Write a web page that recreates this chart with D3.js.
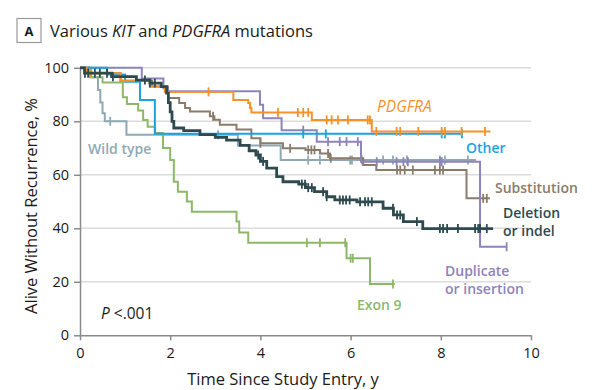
<!DOCTYPE html>
<html>
<head>
<meta charset="utf-8">
<script src="https://cdn.jsdelivr.net/npm/d3@7"></script>
<style>
  body { margin: 0; background: #fff; }
  svg { font-family: "Open Sans", sans-serif; }
</style>
</head>
<body>
<div id="root"></div>
<script>
const w = 592;
const h = 390;

const xTicks = [0, 2, 4, 6, 8, 10];
const yTicks = [0, 20, 40, 60, 80, 100];

// each step = [year, % alive without recurrence from that year on]
const wildSteps = [[0, 100], [0.22, 96.5], [0.4, 91.7], [0.45, 87], [0.5, 83], [0.55, 80], [1.03, 75], [3.5, 71], [4.45, 65.5]];
const wildCensor = [0.67, 3.06, 5.06, 5.32, 5.99, 6.03, 6.25, 6.72, 6.94, 7.25, 7.98, 8.09, 8.6];
const wildEnd = 8.78;

const exon9Steps = [[0, 100], [0.25, 96.5], [0.5, 94.5], [0.95, 89], [1.04, 86.5], [1.29, 84], [1.4, 80.5], [1.5, 78], [1.66, 75.6], [1.84, 70], [2.0, 65.5], [2.08, 57.4], [2.17, 53.7], [2.37, 50], [2.48, 46.2], [3.47, 42.5], [3.53, 38.4], [3.73, 34.6], [5.91, 28.8], [6.43, 19.2]];
const exon9Censor = [5.03, 5.32, 5.88, 6.0, 6.05, 6.94];
const exon9End = 6.98;

const substSteps = [[0, 100], [0.2, 98], [0.9, 95.2], [1.6, 93], [1.95, 88.7], [2.2, 86.8], [2.33, 85], [2.44, 83.7], [2.88, 81.9], [2.98, 80.6], [3.1, 78.7], [3.47, 76.9], [3.8, 73.7], [4.0, 71.8], [4.5, 69.9], [5.0, 69.3], [5.32, 68], [5.54, 66.2], [6.28, 63.7], [6.57, 61.8], [8.57, 51.2]];
const substCensor = [2.95, 4.0, 4.66, 5.06, 5.13, 5.2, 5.5, 5.56, 7.03, 7.1, 7.2, 7.38, 7.87, 7.98, 8.05, 8.87, 8.94, 9.02];
const substEnd = 9.09;

const dupSteps = [[0, 100], [1.37, 96], [1.85, 92.4], [1.92, 91.2], [3.99, 86.2], [4.06, 81.1], [4.47, 76.7], [5.25, 72.4], [6.23, 64.9], [8.87, 33.1]];
const dupCensor = [4.95, 5.5, 5.76, 5.91, 6.16, 6.58, 7.02, 7.17, 7.27, 7.98, 8.02, 9.46];
const dupEnd = 9.46;

const otherSteps = [[0, 100], [0.6, 97.5], [1.0, 94.8], [1.33, 88], [1.66, 75.3]];
const otherCensor = [4.95, 5.45, 8.02, 8.09, 8.47];
const otherEnd = 8.47;

const pdgfraSteps = [[0, 100], [0.15, 98], [0.9, 95.2], [1.55, 93], [1.88, 91], [3.4, 88], [3.73, 86.8], [3.77, 85], [3.8, 83.3], [5.14, 80.5], [6.47, 76.2]];
const pdgfraCensor = [0.22, 2.85, 4.39, 4.83, 4.95, 5.06, 5.47, 5.58, 5.72, 5.94, 6.38, 6.43, 6.57, 7.02, 7.1, 7.5, 8.02, 8.09, 8.46, 8.98];
const pdgfraEnd = 9.1;

const delSteps = [[0, 100], [0.1, 98], [0.7, 96.7], [1.25, 95.4], [1.55, 94.3], [1.8, 93], [1.92, 90.5], [1.96, 87], [2.0, 83.5], [2.04, 80], [2.08, 77.5], [2.3, 76.5], [2.66, 75], [3.0, 74], [3.25, 73], [3.55, 71], [3.75, 69], [3.9, 67.4], [4.0, 65], [4.14, 62.5], [4.36, 59.3], [4.5, 57.4], [4.85, 56.5], [5.0, 55.2], [5.2, 53.7], [5.47, 51.8], [5.65, 50.6], [6.14, 49.9], [6.72, 47.5], [6.95, 45], [7.17, 42.5], [7.6, 39.9]];
const delCensor = [0.11, 0.18, 0.33, 0.44, 0.6, 0.73, 1.44, 1.55, 1.66, 3.95, 4.06, 4.92, 4.99, 5.06, 5.14, 5.39, 5.47, 5.76, 5.83, 5.9, 5.98, 6.21, 6.32, 6.39, 6.47, 6.94, 7.03, 7.1, 7.47, 7.98, 8.05, 8.14, 8.38, 8.76, 8.83, 8.87, 9.02];
const delEnd = 9.16;

const colors = {
  wild: "#8fa9b4",
  exon9: "#8db86a",
  subst: "#8a7b6a",
  dup: "#8e83bd",
  other: "#1ba3dd",
  pdgfra: "#f5922a",
  del: "#2e4a4f",
};

const series = [
  { key: "wild", steps: wildSteps, censor: wildCensor, end: wildEnd, width: 2 },
  { key: "exon9", steps: exon9Steps, censor: exon9Censor, end: exon9End, width: 2 },
  { key: "subst", steps: substSteps, censor: substCensor, end: substEnd, width: 2 },
  { key: "dup", steps: dupSteps, censor: dupCensor, end: dupEnd, width: 2 },
  { key: "other", steps: otherSteps, censor: otherCensor, end: otherEnd, width: 2 },
  { key: "pdgfra", steps: pdgfraSteps, censor: pdgfraCensor, end: pdgfraEnd, width: 2 },
  { key: "del", steps: delSteps, censor: delCensor, end: delEnd, width: 2.8 },
];

const svg = d3
  .select("#root")
  .append("svg")
  .attr("width", w)
  .attr("height", h);

const xScale = d3.scaleLinear().domain([0, 10]).range([80, 531]);
const yScale = d3.scaleLinear().domain([0, 100]).range([335.3, 67.8]);

// title with boxed panel letter
svg
  .append("rect")
  .attr("x", 17)
  .attr("y", 18.5)
  .attr("width", 24)
  .attr("height", 24)
  .attr("fill", "#fff")
  .attr("stroke", "#9a9a9a")
  .attr("stroke-width", 1.2);

svg
  .append("text")
  .attr("x", 29)
  .attr("y", 35.5)
  .attr("text-anchor", "middle")
  .attr("font-size", 13)
  .attr("font-weight", "bold")
  .attr("fill", "#1a1a1a")
  .text("A");

const title = svg
  .append("text")
  .attr("x", 50)
  .attr("y", 37)
  .attr("font-size", 16.5)
  .attr("fill", "#1a1a1a");
title.append("tspan").text("Various ");
title.append("tspan").attr("font-style", "italic").text("KIT");
title.append("tspan").text(" and ");
title.append("tspan").attr("font-style", "italic").text("PDGFRA");
title.append("tspan").text(" mutations");

// grid
svg
  .append("g")
  .selectAll("line")
  .data(yTicks.filter((d) => d > 0))
  .join("line")
  .attr("x1", xScale(0))
  .attr("x2", xScale(10))
  .attr("y1", (d) => yScale(d))
  .attr("y2", (d) => yScale(d))
  .attr("stroke", "#dcdcdc")
  .attr("stroke-width", 1.5);

// axes
const yAxis = d3.axisLeft(yScale).tickValues(yTicks).tickSize(6).tickSizeOuter(0).tickPadding(5);
const xAxis = d3.axisBottom(xScale).tickValues(xTicks).tickSize(5).tickSizeOuter(0).tickPadding(7);

const gy = svg
  .append("g")
  .attr("transform", `translate(${xScale(0)},0)`)
  .call(yAxis);
const gx = svg
  .append("g")
  .attr("transform", `translate(0,${yScale(0)})`)
  .call(xAxis);

[gx, gy].forEach((g) => {
  g.select(".domain").attr("stroke", "#8a8a8a").attr("stroke-width", 1.5);
  g.selectAll(".tick line").attr("stroke", "#8a8a8a").attr("stroke-width", 1.5);
  g.selectAll(".tick text")
    .attr("font-family", "Open Sans, sans-serif")
    .attr("font-size", 14.5)
    .attr("fill", "#1a1a1a");
});

svg
  .append("text")
  .attr("text-anchor", "middle")
  .attr("transform", `translate(283, 385)`)
  .attr("font-size", 16.5)
  .attr("fill", "#1a1a1a")
  .text("Time Since Study Entry, y");

svg
  .append("text")
  .attr("text-anchor", "middle")
  .attr("transform", `translate(37, 206) rotate(-90)`)
  .attr("font-size", 16.5)
  .attr("fill", "#1a1a1a")
  .text("Alive Without Recurrence, %");

// curves
function valueAt(steps, t) {
  let v = steps[0][1];
  steps.forEach((s) => {
    if (s[0] <= t) v = s[1];
  });
  return v;
}

const line = d3
  .line()
  .x((d) => xScale(d[0]))
  .y((d) => yScale(d[1]))
  .curve(d3.curveStepAfter);

const curves = svg.append("g");

series.forEach((s) => {
  const pts = s.steps.concat([[s.end, s.steps[s.steps.length - 1][1]]]);
  const g = curves.append("g");

  g.append("path")
    .attr("d", line(pts))
    .attr("fill", "none")
    .attr("stroke", colors[s.key])
    .attr("stroke-width", s.width);

  g.selectAll("line")
    .data(s.censor)
    .join("line")
    .attr("x1", (d) => xScale(d))
    .attr("x2", (d) => xScale(d))
    .attr("y1", (d) => yScale(valueAt(s.steps, d)) - 4.5)
    .attr("y2", (d) => yScale(valueAt(s.steps, d)) + 4.5)
    .attr("stroke", colors[s.key])
    .attr("stroke-width", 1.8);
});

// curve labels
const labels = [
  { key: "pdgfra", lines: ["PDGFRA"], x: 377, y: 112, italic: true, size: 15.5 },
  { key: "other", lines: ["Other"], x: 466, y: 153 },
  { key: "wild", lines: ["Wild type"], x: 88, y: 154 },
  { key: "subst", lines: ["Substitution"], x: 495, y: 193 },
  { key: "del", lines: ["Deletion", "or indel"], x: 503, y: 218 },
  { key: "dup", lines: ["Duplicate", "or insertion"], x: 445, y: 276 },
  { key: "exon9", lines: ["Exon 9"], x: 357, y: 310 },
];

labels.forEach((l) => {
  const t = svg
    .append("text")
    .attr("x", l.x)
    .attr("y", l.y)
    .attr("font-size", l.size || 14)
    .attr("font-weight", l.italic ? 400 : 600)
    .attr("font-style", l.italic ? "italic" : "normal")
    .attr("fill", colors[l.key]);
  l.lines.forEach((s, i) => {
    t.append("tspan")
      .attr("x", l.x)
      .attr("dy", i === 0 ? 0 : 18)
      .text(s);
  });
});

const pText = svg
  .append("text")
  .attr("x", 101)
  .attr("y", 319)
  .attr("font-size", 15.5)
  .attr("fill", "#1a1a1a");
pText.append("tspan").attr("font-style", "italic").text("P");
pText.append("tspan").text(" <.001");
</script>
</body>
</html>
